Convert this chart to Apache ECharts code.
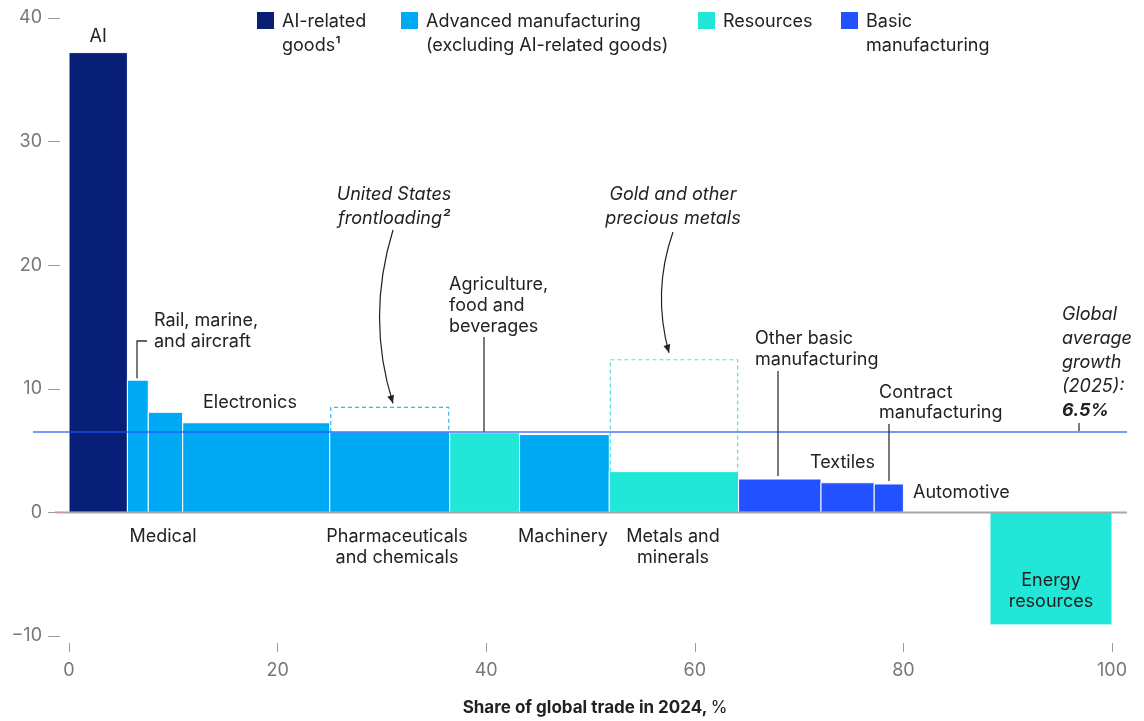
<!DOCTYPE html>
<html>
<head>
<meta charset="utf-8">
<script src="https://cdn.jsdelivr.net/npm/echarts@6/dist/echarts.min.js"></script>
<style>
  html, body { margin: 0; padding: 0; background: #fff; }
  #main { width: 1144px; height: 721px; }
</style>
</head>
<body>
<div id="main"></div>
<script>
// ---- data ----
const categories = ['AI', 'Rail, marine, and aircraft', 'Medical', 'Electronics',
  'Pharmaceuticals and chemicals', 'Agriculture, food and beverages', 'Machinery',
  'Metals and minerals', 'Other basic manufacturing', 'Textiles',
  'Contract manufacturing', 'Automotive', 'Energy resources'];
const shares = [5.6, 2.0, 3.3, 14.1, 11.5, 6.7, 8.6, 12.4, 7.9, 5.1, 2.8, 8.3, 11.7];
const growth = [37.2, 10.7, 8.1, 7.25, 6.5, 6.45, 6.3, 3.3, 2.7, 2.4, 2.3, 0, -9.1];
const groups = ['ai', 'adv', 'adv', 'adv', 'adv', 'res', 'adv', 'res', 'basic', 'basic', 'basic', 'basic', 'res'];
// growth including excluded effects (dashed outlines)
const dashedTops = [null, null, null, null, 8.5, null, null, 12.35, null, null, null, null, null];
const globalAverage = 6.5;
const xTicks = [0, 20, 40, 60, 80, 100];
const yTicks = [-10, 0, 10, 20, 30, 40];

const colors = { ai: '#081f78', adv: '#00a9f4', res: '#22e7d8', basic: '#2251ff' };
const dashColors = { adv: '#3ab4f2', res: '#4ee3dc' };

// ---- build ----
let cum = 0;
const barData = shares.map((s, i) => { const a = cum; cum += s; return [a, cum, growth[i], i]; });
const dashData = [];
barData.forEach((d, i) => { if (dashedTops[i] != null) dashData.push([d[0], d[1], growth[i], dashedTops[i], i]); });

const FONT = 'Inter';
const TXT = '#222';
const DY = 1.5; // baseline nudge for annotation text

const chart = echarts.init(document.getElementById('main'), null, { renderer: 'canvas' });

const option = {
  animation: false,
  grid: { left: 69, right: 32, top: 18, bottom: 85, containLabel: false },
  xAxis: {
    type: 'value', min: xTicks[0], max: xTicks[xTicks.length - 1], interval: 20, offset: 7,
    axisLine: { show: false, onZero: false },
    axisTick: { show: true, length: 9, lineStyle: { color: '#9a9a9a', width: 1 } },
    splitLine: { show: false },
    axisLabel: { margin: 19, color: '#777', fontSize: 18, fontFamily: FONT }
  },
  yAxis: {
    type: 'value', min: yTicks[0], max: yTicks[yTicks.length - 1], interval: 10, offset: 9,
    axisLine: { show: false, onZero: false },
    axisTick: { show: true, length: 12, lineStyle: { color: '#9a9a9a', width: 1 } },
    splitLine: { show: false },
    axisLabel: {
      margin: 18, color: '#777', fontSize: 18, fontFamily: FONT,
      formatter: v => (v < 0 ? '\u2212' + Math.abs(v) : String(v))
    }
  },
  series: [
    {
      type: 'custom', name: 'bars', data: barData, z: 2,
      encode: { x: [0, 1], y: 2 },
      renderItem: (params, api) => {
        const s = api.value(0), e = api.value(1), v = api.value(2), i = api.value(3);
        if (v === 0) return null;
        const p0 = api.coord([s, v]), p1 = api.coord([e, 0]);
        return {
          type: 'rect',
          shape: { x: p0[0], y: Math.min(p0[1], p1[1]), width: p1[0] - p0[0], height: Math.abs(p1[1] - p0[1]) },
          style: { fill: colors[groups[i]], stroke: '#fff', lineWidth: 1 }
        };
      }
    },
    {
      type: 'custom', name: 'dashed', data: dashData, z: 2,
      encode: { x: [0, 1], y: 3 },
      renderItem: (params, api) => {
        const s = api.value(0), e = api.value(1), b = api.value(2), t = api.value(3), i = api.value(4);
        const a = api.coord([s, b]), c = api.coord([e, t]);
        return {
          type: 'polyline',
          shape: { points: [[a[0] + 1, a[1]], [a[0] + 1, c[1]], [c[0] - 1, c[1]], [c[0] - 1, a[1]]] },
          style: { stroke: dashColors[groups[i]], lineWidth: 1.2, lineDash: [4, 3], fill: null }
        };
      }
    }
  ]
};
chart.setOption(option);

// ---- annotations ----
const px = (x, y) => chart.convertToPixel({ gridIndex: 0 }, [x, y]);
const g = [];
function txt(lines, x, y, opts) {
  opts = opts || {};
  const lh = opts.lh || 21;
  lines.forEach((ln, k) => {
    g.push({
      type: 'text', x: x, y: y + DY + k * lh, silent: true, z: 20,
      style: {
        text: ln, fill: opts.fill || TXT, font: (opts.style || '') + ' ' + (opts.weight || 'normal') + ' ' + (opts.size || 18) + 'px ' + FONT,
        align: opts.align || 'left', verticalAlign: 'middle'
      }
    });
  });
}
function line(pts, color, w, z) {
  g.push({ type: 'polyline', shape: { points: pts }, silent: true, z: z || 15, style: { stroke: color || '#333', lineWidth: w || 1.3, fill: null } });
}

// baseline and global-average reference line (extend slightly past the plot)
const b0 = px(0, 0), b1 = px(100, 0);
line([[b0[0] - 7, b0[1]], [b1[0] + 15, b0[1]]], '#a8a8a8', 2, 12);
line([[b0[0] - 14, b0[1]], [b0[0] - 7, b0[1]]], '#d88fae', 2, 12);
const gA = px(0, globalAverage), gB = px(100, globalAverage);
line([[gA[0] - 36, gA[1]], [gB[0] + 15, gA[1]]], 'rgba(37,80,250,0.6)', 2, 13);

// bar labels
const bd = barData;
const cx = i => (px(bd[i][0], 0)[0] + px(bd[i][1], 0)[0]) / 2;
txt(['AI'], cx(0), 35, { align: 'center' });
txt(['Rail, marine,', 'and aircraft'], 154, 319);
txt(['Electronics'], 203, 401);
txt(['Medical'], 163, 535, { align: 'center' });
txt(['Pharmaceuticals', 'and chemicals'], 397, 535, { align: 'center' });
txt(['Agriculture,', 'food and', 'beverages'], 449, 283);
txt(['Machinery'], 563, 535, { align: 'center' });
txt(['Metals and', 'minerals'], 673, 535, { align: 'center' });
txt(['Other basic', 'manufacturing'], 755, 337);
txt(['Textiles'], 810, 461);
txt(['Contract', 'manufacturing'], 879, 391, { lh: 20 });
txt(['Automotive'], 913, 491);
txt(['Energy', 'resources'], cx(12), 579, { align: 'center' });

// leader lines
const top1 = px(bd[1][0], growth[1]);
line([[137, top1[1] - 2], [137, 341], [147, 341]]);
const t5 = px(0, growth[5]);
line([[484, 337], [484, t5[1] - 1]]);
const t8 = px(0, growth[8]);
line([[778, 371], [778, t8[1] - 3]]);
const t10 = px(0, growth[10]);
line([[889, 424], [889, t10[1] - 3]]);
line([[1079, 423], [1079, gA[1] - 1]]);

// notes
txt(['United States', 'frontloading\u00b2'], 394, 193, { align: 'center', style: 'italic', lh: 24 });
txt(['Gold and other', 'precious metals'], 673, 193, { align: 'center', style: 'italic', lh: 24 });
txt(['Global', 'average', 'growth', '(2025):'], 1062, 313, { style: 'italic', lh: 24 });
txt(['6.5%'], 1062, 409, { style: 'italic', weight: 'bold' });

// curved arrows
function arrow(x1, y1, cpx, cpy, x2, y2) {
  g.push({ type: 'bezierCurve', silent: true, z: 15, shape: { x1: x1, y1: y1, cpx1: cpx, cpy1: cpy, x2: x2, y2: y2 },
    style: { stroke: '#222', lineWidth: 1.2, fill: null } });
  const ang = Math.atan2(y2 - cpy, x2 - cpx);
  const L = 8, W = 3.5;
  const bx = x2 - L * Math.cos(ang), by = y2 - L * Math.sin(ang);
  const nx = -Math.sin(ang), ny = Math.cos(ang);
  g.push({ type: 'polygon', silent: true, z: 15, shape: { points: [[x2, y2], [bx + W * nx, by + W * ny], [bx - W * nx, by - W * ny]] },
    style: { fill: '#222' } });
}
const a1 = px(0, dashedTops[4]);
arrow(393, 230, 366, 318, 393, a1[1] - 4);
const a2 = px(0, dashedTops[7]);
arrow(673, 232, 652, 292, 669, a2[1] - 7);

// legend
const legend = [
  { key: 'ai', x: 257, lines: ['AI-related', 'goods\u00b9'] },
  { key: 'adv', x: 401, lines: ['Advanced manufacturing', '(excluding AI-related goods)'] },
  { key: 'res', x: 698, lines: ['Resources'] },
  { key: 'basic', x: 841, lines: ['Basic', 'manufacturing'] }
];
legend.forEach(l => {
  g.push({ type: 'rect', silent: true, z: 20, shape: { x: l.x, y: 12, width: 17, height: 17 }, style: { fill: colors[l.key] } });
  txt(l.lines, l.x + 25, 20, { lh: 24 });
});

// axis title
g.push({
  type: 'text', x: 595, y: 708, silent: true, z: 20,
  style: {
    text: '{b|Share of global trade in 2024,} {n|%}', align: 'center', verticalAlign: 'middle',
    rich: {
      b: { fontWeight: 'bold', fontSize: 17, fontFamily: FONT, fill: '#222' },
      n: { fontWeight: 'normal', fontSize: 17, fontFamily: FONT, fill: '#222' }
    }
  }
});

chart.setOption({ graphic: { elements: g } });
</script>
</body>
</html>
